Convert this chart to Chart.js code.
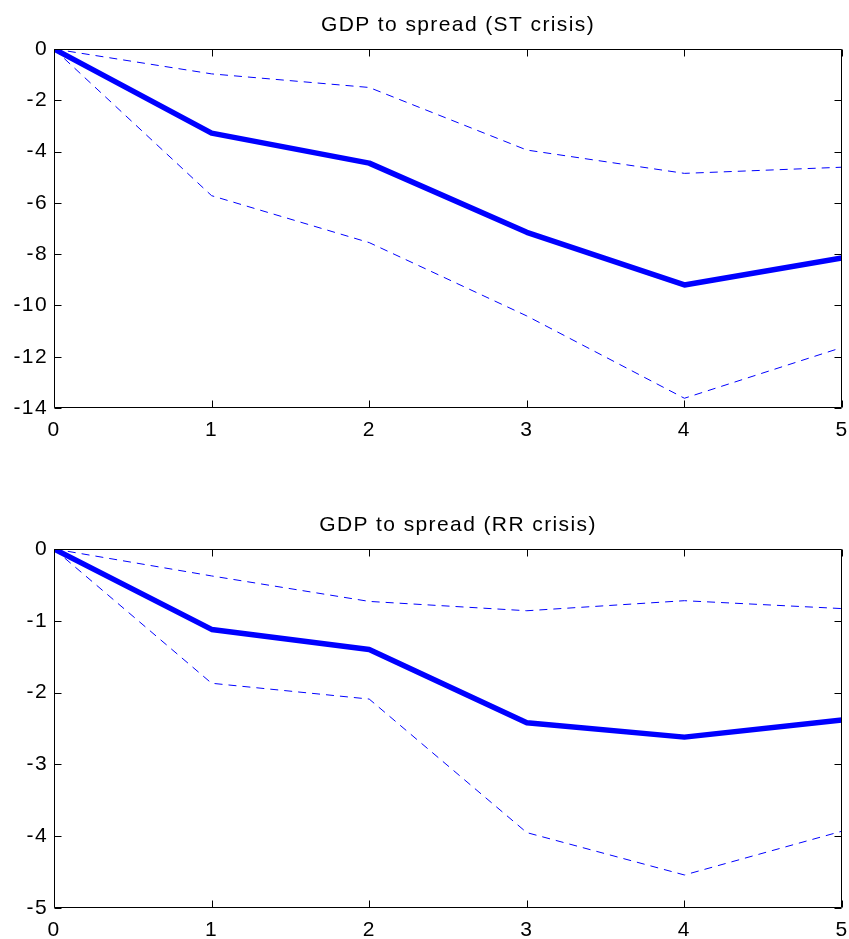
<!DOCTYPE html>
<html>
<head>
<meta charset="utf-8">
<script src="https://cdn.jsdelivr.net/npm/chart.js@4.4.1/dist/chart.umd.min.js"></script>
<style>
  body { margin: 0; background: #fff; }
  canvas { display: block; }
</style>
</head>
<body>
<canvas id="chartST" width="849" height="500"></canvas>
<canvas id="chartRR" width="849" height="439"></canvas>
<script>
// Horizon (x axis)
const horizons = [0, 1, 2, 3, 4, 5];

// GDP to spread (ST crisis)
const stMedian = [0, -3.28, -4.45, -7.15, -9.2, -8.15];
const stUpper = [0, -0.97, -1.5, -3.94, -4.85, -4.61];
const stLower = [0, -5.72, -7.55, -10.41, -13.62, -11.64];
const stTicks = [0, -2, -4, -6, -8, -10, -12, -14];

// GDP to spread (RR crisis)
const rrMedian = [0, -1.12, -1.4, -2.42, -2.62, -2.38];
const rrUpper = [0, -0.375, -0.73, -0.86, -0.72, -0.83];
const rrLower = [0, -1.87, -2.09, -3.95, -4.54, -3.93];
const rrTicks = [0, -1, -2, -3, -4, -5];

const FONT = "'Liberation Sans', Arial, sans-serif";
const BLUE = '#0000ff';

function toPoints(ys) {
  return horizons.map((h, i) => ({ x: h, y: ys[i] }));
}

// Box + inward tick marks + title, MATLAB style
const boxPlugin = {
  id: 'boxTicks',
  beforeDraw(chart) {
    chart.ctx.letterSpacing = '1.4px';
  },
  afterDraw(chart, args, opts) {
    const { ctx, chartArea: a, scales } = chart;
    const len = 7;
    ctx.save();
    ctx.strokeStyle = '#000';
    ctx.lineWidth = 1;
    ctx.beginPath();
    const L = Math.round(a.left) + 0.5, R = Math.round(a.right) - 0.5;
    const T = Math.round(a.top) + 0.5, B = Math.round(a.bottom) - 0.5;
    ctx.rect(L, T, R - L, B - T);
    scales.x.ticks.forEach(t => {
      const px = Math.round(scales.x.getPixelForValue(t.value)) + 0.5;
      ctx.moveTo(px, B); ctx.lineTo(px, B - len);
      ctx.moveTo(px, T); ctx.lineTo(px, T + len);
    });
    scales.y.ticks.forEach(t => {
      const py = Math.round(scales.y.getPixelForValue(t.value)) + 0.5;
      ctx.moveTo(L, py); ctx.lineTo(L + len, py);
      ctx.moveTo(R, py); ctx.lineTo(R - len, py);
    });
    ctx.stroke();

    // title
    ctx.fillStyle = '#000';
    ctx.font = '21px ' + FONT;
    ctx.textAlign = 'center';
    ctx.textBaseline = 'middle';
    ctx.fillText(opts.text, (a.left + a.right) / 2 + 10, 25);
    ctx.restore();
  }
};

function makeChart(id, title, median, upper, lower, yTicks, xAxisHeight) {
  const yMin = Math.min(...yTicks);
  const yMax = Math.max(...yTicks);
  return new Chart(document.getElementById(id), {
    type: 'line',
    data: {
      datasets: [
        { data: toPoints(upper), borderColor: BLUE, borderWidth: 1, borderDash: [8, 6], pointRadius: 0, tension: 0 },
        { data: toPoints(lower), borderColor: BLUE, borderWidth: 1, borderDash: [8, 6], pointRadius: 0, tension: 0 },
        { data: toPoints(median), borderColor: BLUE, borderWidth: 5.5, pointRadius: 0, tension: 0, borderJoinStyle: 'round' },
      ],
    },
    options: {
      responsive: false,
      animation: false,
      layout: { autoPadding: false, padding: { left: 0, right: 7, top: 49, bottom: 0 } },
      plugins: {
        legend: { display: false },
        tooltip: { enabled: false },
        title: { display: false },
        boxTicks: { text: title },
      },
      scales: {
        x: {
          type: 'linear',
          min: 0,
          max: 5,
          grid: { display: false, drawTicks: false },
          border: { display: false },
          ticks: { stepSize: 1, color: '#000', padding: 10, font: { family: FONT, size: 21 }, maxRotation: 0 },
          afterFit(s) {
            s.height = xAxisHeight;
            s.paddingLeft = 0;
            s.paddingRight = 0;
          },
        },
        y: {
          min: yMin,
          max: yMax,
          grid: { display: false, drawTicks: false },
          border: { display: false },
          ticks: { stepSize: 1, color: '#000', padding: 6, font: { family: FONT, size: 21 } },
          afterBuildTicks(s) { s.ticks = yTicks.map(v => ({ value: v })); },
          afterFit(s) {
            s.width = 54;
            s.paddingTop = 0;
            s.paddingBottom = 0;
          },
        },
      },
    },
    plugins: [boxPlugin],
  });
}

makeChart('chartST', 'GDP to spread (ST crisis)', stMedian, stUpper, stLower, stTicks, 92);
makeChart('chartRR', 'GDP to spread (RR crisis)', rrMedian, rrUpper, rrLower, rrTicks, 31);
</script>
</body>
</html>
